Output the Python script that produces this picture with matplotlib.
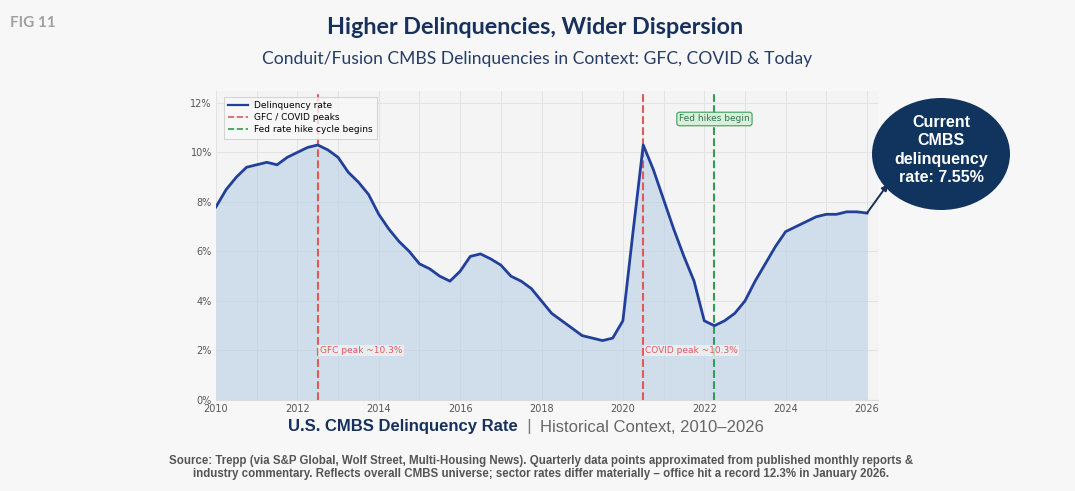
import matplotlib
matplotlib.use("Agg")
import matplotlib.pyplot as plt
from matplotlib.patches import Ellipse
from matplotlib.lines import Line2D
from matplotlib.ticker import MultipleLocator, FuncFormatter
from matplotlib import font_manager as fm

# ---------------- data ----------------
quarters = [2010 + 0.25 * i for i in range(65)]
rates = [
    7.8, 8.5, 9.0, 9.4,      # 2010
    9.5, 9.6, 9.5, 9.8,      # 2011
    10.0, 10.2, 10.3, 10.1,  # 2012
    9.8, 9.2, 8.8, 8.3,      # 2013
    7.5, 6.9, 6.4, 6.0,      # 2014
    5.5, 5.3, 5.0, 4.8,      # 2015
    5.2, 5.8, 5.9, 5.7,      # 2016
    5.45, 5.0, 4.8, 4.5,     # 2017
    4.0, 3.5, 3.2, 2.9,      # 2018
    2.6, 2.5, 2.4, 2.5,      # 2019
    3.2, 6.8, 10.3, 9.3,     # 2020
    8.1, 6.9, 5.8, 4.8,      # 2021
    3.2, 3.0, 3.2, 3.5,      # 2022
    4.0, 4.8, 5.5, 6.2,      # 2023
    6.8, 7.0, 7.2, 7.4,      # 2024
    7.5, 7.5, 7.6, 7.6,      # 2025
    7.55,                    # 2026
]
gfc_peak_x = 2012.5
covid_peak_x = 2020.5
fed_hike_x = 2022.25
current_rate = 7.55

title = "Higher Delinquencies, Wider Dispersion"
subtitle = "Conduit/Fusion CMBS Delinquencies in Context: GFC, COVID & Today"
fig_label = "FIG 11"
bottom_bold = "U.S. CMBS Delinquency Rate"
bottom_rest = "Historical Context, 2010\u20132026"
source_lines = [
    "Source: Trepp (via S&P Global, Wolf Street, Multi-Housing News). Quarterly data points approximated from published monthly reports &",
    "industry commentary. Reflects overall CMBS universe; sector rates differ materially \u2013 office hit a record 12.3% in January 2026.",
]

# ---------------- fonts ----------------
available = {f.name for f in fm.fontManager.ttflist}
def pick(*names):
    for n in names:
        if n in available:
            return n
    return "DejaVu Sans"
title_font = pick("Lato", "Open Sans", "DejaVu Sans")
narrow_font = pick("Liberation Sans Narrow", "Liberation Sans", "DejaVu Sans")
arial = pick("Liberation Sans", "DejaVu Sans")
plt.rcParams['font.family'] = [pick("DejaVu Sans")]

W, H = 1075, 491
fig = plt.figure(figsize=(W / 100, H / 100), dpi=100)
fig.patch.set_facecolor("#f7f7f7")

def fx(px):
    return px / W
def fy(py):
    return 1 - py / H

ax = fig.add_axes([fx(216), fy(400), fx(878) - fx(216), fy(91) - fy(400)])
ax.set_facecolor("#f4f4f4")

navy_line = "#22409a"
ax.fill_between(quarters, rates, 0, color="#b9cfe6", alpha=0.6, lw=0, zorder=2)
ax.plot(quarters, rates, color=navy_line, lw=2.0, zorder=4, label="Delinquency rate")

red = "#e05a5a"
green = "#2e9e55"
ax.axvline(gfc_peak_x, color=red, ls="--", lw=1.5, zorder=3)
ax.axvline(covid_peak_x, color=red, ls="--", lw=1.5, zorder=3)
ax.axvline(fed_hike_x, color=green, ls="--", lw=1.5, zorder=3)

ax.text(gfc_peak_x + 0.05, 2.0, "GFC peak ~10.3%", color=red, fontsize=6.5,
        va="center", ha="left", zorder=5,
        bbox=dict(boxstyle="square,pad=0.15", fc="#f4f4f4", ec="none", alpha=0.7))
ax.text(covid_peak_x + 0.05, 2.0, "COVID peak ~10.3%", color=red, fontsize=6.5,
        va="center", ha="left", zorder=5,
        bbox=dict(boxstyle="square,pad=0.15", fc="#f4f4f4", ec="none", alpha=0.7))
ax.text(fed_hike_x, 11.35, "Fed hikes begin", color="#2d7a45", fontsize=6.5,
        va="center", ha="center", zorder=5,
        bbox=dict(boxstyle="round,pad=0.25,rounding_size=0.3", fc="#d9efdd", ec="#4aa865", lw=0.9))

ax.set_xlim(2010, 2026.27)
ax.set_ylim(0, 12.48)
ax.xaxis.set_major_locator(MultipleLocator(2))
ax.xaxis.set_minor_locator(MultipleLocator(1))
ax.yaxis.set_major_locator(MultipleLocator(2))
ax.yaxis.set_major_formatter(FuncFormatter(lambda v, p: f"{v:.0f}%"))
ax.grid(which="both", axis="x", color="#e3e3e3", lw=0.8, zorder=1)
ax.grid(which="major", axis="y", color="#e3e3e3", lw=0.8, zorder=1)
ax.set_axisbelow(True)
ax.tick_params(axis="both", which="both", length=0, labelsize=7, colors="#555555", pad=3)
for s in ["top", "right", "left"]:
    ax.spines[s].set_visible(False)
ax.spines["bottom"].set_color("#dddddd")
ax.spines["bottom"].set_linewidth(0.8)

handles = [
    Line2D([], [], color=navy_line, lw=1.6),
    Line2D([], [], color=red, lw=1.2, ls="--"),
    Line2D([], [], color=green, lw=1.2, ls="--"),
]
leg = ax.legend(handles, ["Delinquency rate", "GFC / COVID peaks", "Fed rate hike cycle begins"],
                loc="upper left", bbox_to_anchor=(0.005, 0.995), fontsize=6.5, frameon=True,
                handlelength=2.2, borderpad=0.45, labelspacing=0.35, handletextpad=0.7)
leg.get_frame().set_facecolor("#f8f8f8")
leg.get_frame().set_edgecolor("#cccccc")
leg.get_frame().set_linewidth(0.8)
leg.get_frame().set_boxstyle("square", pad=0.0)

# ---------------- header ----------------
fig.text(fx(10), fy(23), fig_label, fontsize=11, fontweight="bold", color="#a0a0a0",
         family=title_font, ha="left", va="center")
fig.text(fx(535), fy(27), title, fontsize=16.8, fontweight="bold", color="#17315c",
         family=title_font, ha="center", va="center")
fig.text(fx(537), fy(59), subtitle, fontsize=12.6, color="#263d66",
         family=title_font, ha="center", va="center")

# ---------------- bubble ----------------
bubble = Ellipse((fx(941), fy(154)), fx(138), 112 / H, transform=fig.transFigure,
                 facecolor="#10345e", edgecolor="none", zorder=10)
fig.patches.append(bubble)
fig.text(fx(941), fy(150), "Current\nCMBS\ndelinquency\nrate: %.2f%%" % current_rate,
         color="white", fontsize=11.5, fontweight="bold", family=arial,
         ha="center", va="center", linespacing=1.3, zorder=11)
ax.annotate("", xy=(fx(888), fy(184)), xycoords="figure fraction",
            xytext=(quarters[-1], rates[-1]), textcoords="data",
            arrowprops=dict(arrowstyle="-|>", color="#1a2f55", lw=1.4,
                            mutation_scale=9, shrinkA=0, shrinkB=0),
            annotation_clip=False, zorder=9)

# ---------------- bottom titles ----------------
fig.canvas.draw()
r = fig.canvas.get_renderer()
t1 = fig.text(0, fy(427), bottom_bold, fontsize=12, fontweight="bold", color="#17315c",
              family=narrow_font, ha="left", va="center")
t2 = fig.text(0, fy(427), "  |  ", fontsize=12, color="#777777",
              family=narrow_font, ha="left", va="center")
t3 = fig.text(0, fy(427), bottom_rest, fontsize=12, color="#666666",
              family=narrow_font, ha="left", va="center")
w1 = t1.get_window_extent(r).width
w2 = t2.get_window_extent(r).width
w3 = t3.get_window_extent(r).width
total = w1 + w2 + w3
x0 = 526 - total / 2
t1.set_x(fx(x0))
t2.set_x(fx(x0 + w1))
t3.set_x(fx(x0 + w1 + w2))

fig.text(fx(541), fy(461), source_lines[0], fontsize=8.3, color="#555555",
         family=narrow_font, fontweight="bold", ha="center", va="center")
fig.text(fx(541), fy(474), source_lines[1], fontsize=8.3, color="#555555",
         family=narrow_font, fontweight="bold", ha="center", va="center")

fig.savefig("out.png", dpi=100, facecolor=fig.get_facecolor())
